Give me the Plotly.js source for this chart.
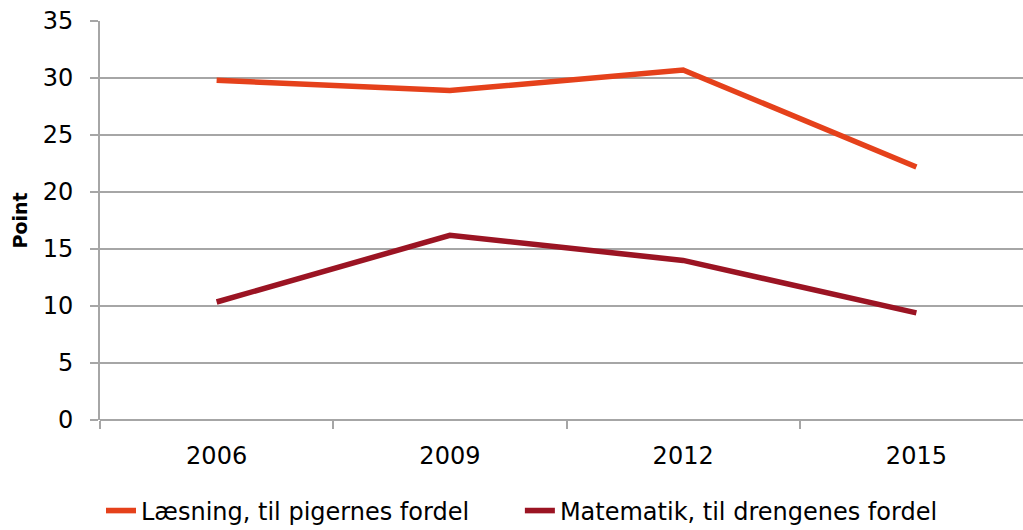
<!DOCTYPE html>
<html>
<head>
<meta charset="utf-8">
<script src="https://cdn.plot.ly/plotly-3.0.1.min.js"></script>
<style>
html,body{margin:0;padding:0;background:#fff;overflow:hidden;width:1023px;height:530px;}
#chart{width:1023px;height:545px;}
</style>
</head>
<body>
<div id="chart"></div>
<script>
const years = ["2006", "2009", "2012", "2015"];
const laesning = [29.8, 28.9, 30.7, 22.2];
const matematik = [10.35, 16.2, 14.0, 9.4];
const seriesNames = ["Læsning, til pigernes fordel", "Matematik, til drengenes fordel"];
const yTicks = [0, 5, 10, 15, 20, 25, 30, 35];

const font = "DejaVu Sans, sans-serif";
const gridColor = "#a6a6a6";

const traces = [
  {x: years, y: laesning, name: seriesNames[0] + "\u00a0\u00a0\u00a0\u00a0\u00a0\u00a0", type: "scatter", mode: "lines",
   line: {color: "#e5411b", width: 5.5}},
  {x: years, y: matematik, name: seriesNames[1], type: "scatter", mode: "lines",
   line: {color: "#9b1423", width: 5.5}}
];

const H = 545;
const layout = {
  width: 1023, height: H,
  margin: {l: 100, r: 0, t: 21, b: H - 420, pad: 0},
  paper_bgcolor: "#fff", plot_bgcolor: "#fff",
  font: {family: font, color: "#000", size: 22},
  showlegend: true,
  legend: {orientation: "h", x: (522 - 100) / 923, xanchor: "center", y: (420 - 511) / 399, yanchor: "middle",
           font: {family: font, size: 24, color: "#000"}, itemwidth: 30, tracegroupgap: 0},
  xaxis: {
    type: "category", range: [-0.5, 3.457], tickson: "boundaries",
    ticks: "outside", ticklen: 8, tickwidth: 2, tickcolor: gridColor,
    showgrid: false, showline: false, zeroline: false,
    ticklabelstandoff: 19,
    tickfont: {family: font, size: 24, color: "#000"}
  },
  yaxis: {
    range: [0, 35], tickvals: yTicks, ticktext: yTicks.map(String),
    ticks: "outside", ticklen: 8, tickwidth: 2, tickcolor: gridColor,
    showgrid: true, gridcolor: gridColor, gridwidth: 2,
    showline: true, linecolor: gridColor, linewidth: 2,
    zeroline: true, zerolinecolor: gridColor, zerolinewidth: 2,
    ticklabelstandoff: 12,
    tickfont: {family: font, size: 24, color: "#000"},
    title: {text: "<b>Point</b>", font: {family: font, size: 19, color: "#000"}, standoff: 10}
  }
};

Plotly.newPlot("chart", traces, layout, {displayModeBar: false, staticPlot: true});
</script>
</body>
</html>
